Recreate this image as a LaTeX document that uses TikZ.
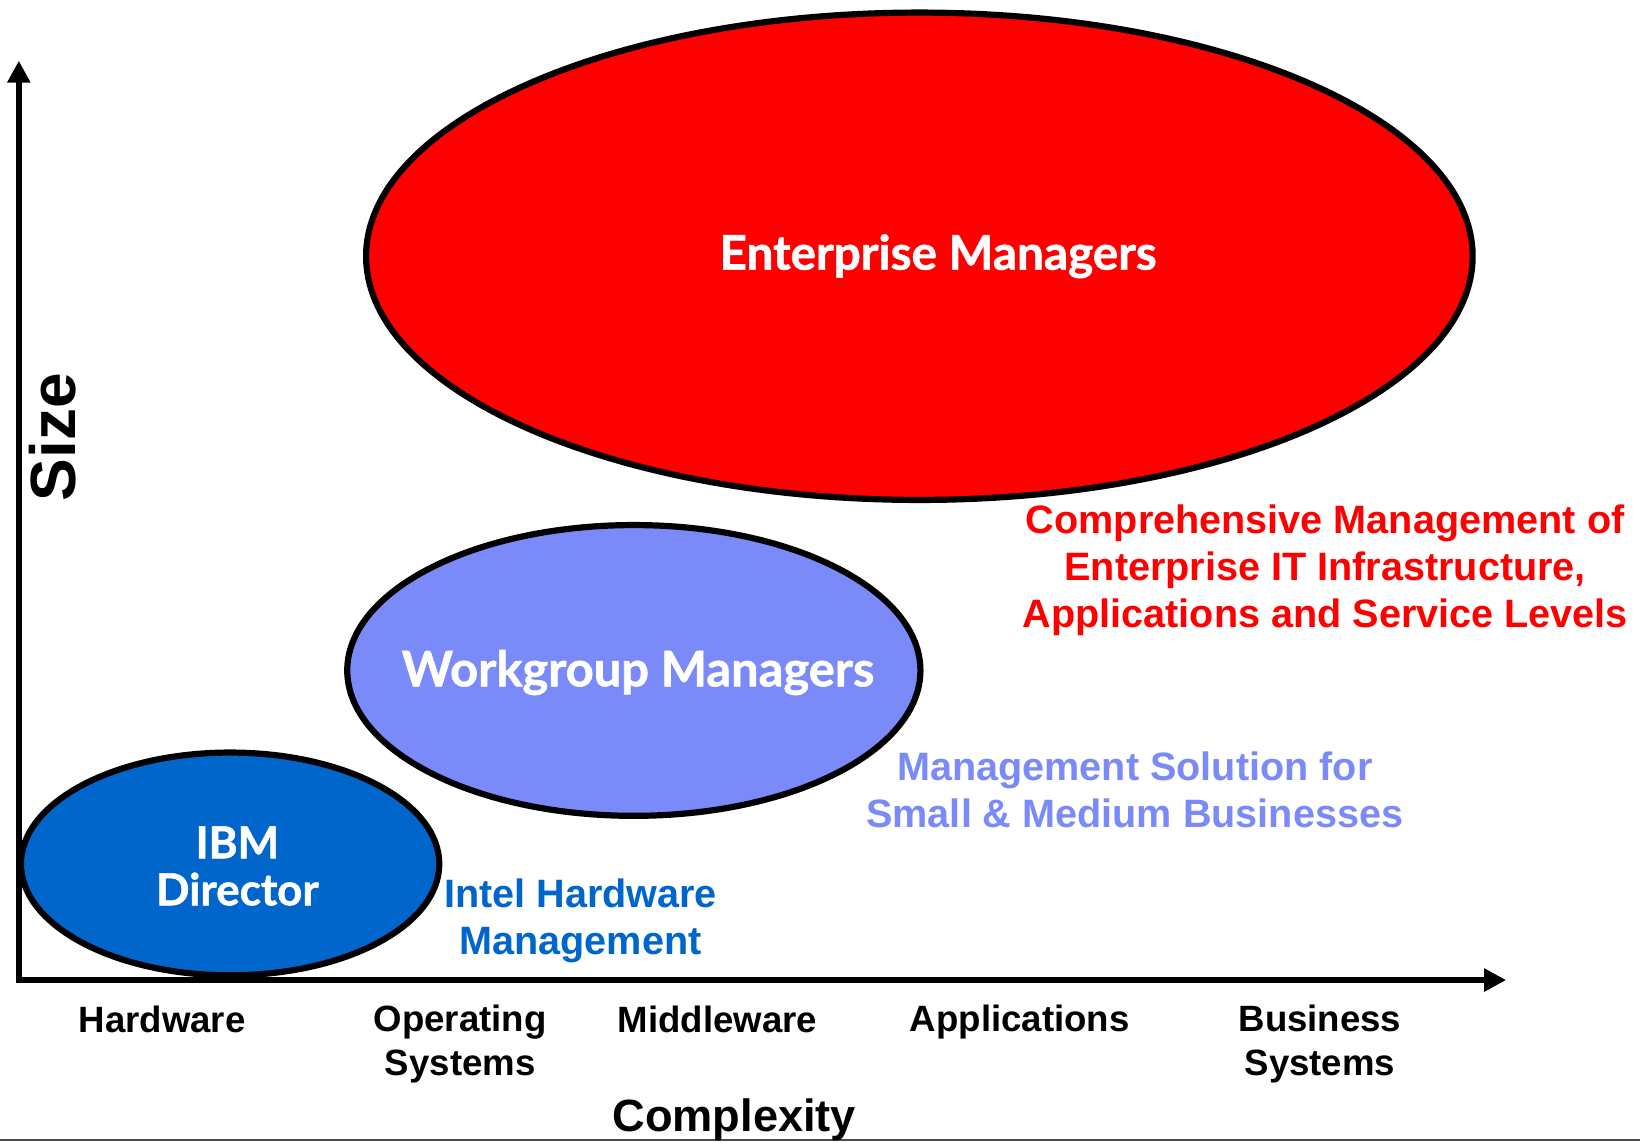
\documentclass[tikz,border=0pt]{standalone}
\usepackage{fontspec}
\setmainfont{Liberation Sans}
\newfontfamily\gill{Lato}[BoldFeatures={FakeBold=1.2}]
\usetikzlibrary{shapes.geometric,arrows.meta}
\definecolor{entred}{HTML}{FF0000}
\definecolor{wgblue}{HTML}{7A8AF8}
\definecolor{ibmblue}{HTML}{0066CC}
\tikzset{
  blob/.style={ellipse, draw=black, line width=3.1pt, inner sep=0pt},
  intext/.style={text=white, font=\gill\bfseries\fontsize{23.8}{23.5}\selectfont, align=center},
  axlabel/.style={font=\bfseries\fontsize{18.3}{22}\selectfont, align=center},
  note/.style={font=\bfseries\fontsize{19.8}{23.5}\selectfont, align=center},
  axisline/.style={line width=3pt, line join=miter}
}
\begin{document}
\begin{tikzpicture}[x=0.523pt, y=-0.523pt]
\useasboundingbox (0,0) rectangle (1568,1092);
% axes
\coordinate (ytop) at (18,58);
\coordinate (origin) at (18,937);
\coordinate (xend) at (1440,937);
\draw[axisline, {Triangle[width=11pt,length=11pt]}-{Triangle[width=11pt,length=11pt]}] (ytop) -- (origin) -- (xend);
% bottom rule
\coordinate (bl) at (0,1090);
\coordinate (br) at (1568,1090);
\draw[line width=1pt, black!70] (bl) -- (br);
% ellipses
\node[blob, fill=entred, minimum width=553.3pt, minimum height=243.7pt] (ent) at (879,245) {};
\node[blob, fill=wgblue, minimum width=286.6pt, minimum height=145.4pt] (wg) at (606,641) {};
\node[blob, fill=ibmblue, minimum width=209.2pt, minimum height=111.4pt] (ibm) at (220,826) {};
% ellipse texts
\node[intext] (entt) at (897,245) {Enterprise Managers};
\node[intext, font=\gill\bfseries\fontsize{24.4}{24}\selectfont] (wgt) at (610,643) {Workgroup Managers};
\node[intext, font=\gill\bfseries\fontsize{22}{23.5}\selectfont] (ibmt) at (227,828) {IBM\\Director};
% notes
\node[note, text=entred] (entn) at (1267,545) {Comprehensive Management of\\Enterprise IT Infrastructure,\\Applications and Service Levels};
\node[note, text=wgblue] (wgn) at (1085,755) {Management Solution for\\Small \& Medium Businesses};
\node[note, text=ibmblue] (ibmn) at (555,880) {Intel Hardware\\Management};
% axis labels
\node[axlabel] (hw) at (155,975) {Hardware};
\node[axlabel] (os) at (440,998) {Operating\\Systems};
\node[axlabel] (mw) at (686,975) {Middleware};
\node[axlabel] (ap) at (975,977) {Applications};
\node[axlabel] (bs) at (1262,998) {Business\\Systems};
\node[font=\bfseries\fontsize{22.6}{26}\selectfont] (cx) at (702,1071) {Complexity};
\node[font=\bfseries\fontsize{32}{36}\selectfont, rotate=90] (sz) at (50,418) {Size};
\end{tikzpicture}
\end{document}
